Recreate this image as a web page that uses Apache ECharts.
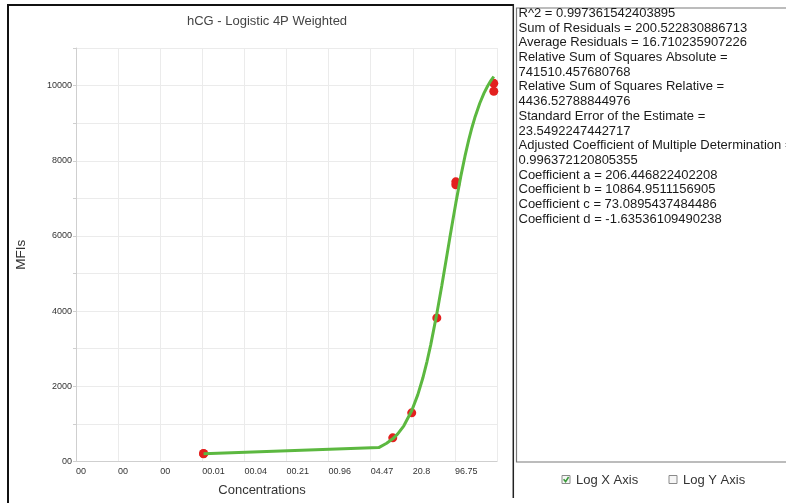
<!DOCTYPE html>
<html>
<head>
<meta charset="utf-8">
<script src="https://cdn.jsdelivr.net/npm/echarts@6/dist/echarts.min.js"></script>
<style>
  html, body { margin: 0; padding: 0; background: #fff; }
  #chart { width: 786px; height: 503px; }
</style>
</head>
<body>
<div id="chart"></div>
<script>
// ---- data ----
const pointConc = [0.01, 0.01, 10, 20, 50, 100, 100, 400, 400];
const pointMfi  = [206, 214, 630, 1295, 3820, 7360, 7440, 10060, 9850];

const fitConc = [0.01, 6, 8, 10, 12, 15, 20, 25, 30, 35, 40, 50, 60, 70, 80, 90, 100, 120, 140, 160, 180, 200, 240, 280, 320, 360, 400];
const fitMfi  = [206, 370, 485, 603, 734, 950, 1349, 1779, 2221, 2666, 3103, 3932, 4683, 5348, 5929, 6434, 6873, 7585, 8128, 8548, 8879, 9142, 9531, 9798, 9990, 10133, 10242];

const xTickLabels = ['00', '00', '00', '00.01', '00.04', '00.21', '00.96', '04.47', '20.8', '96.75', ''];
const yTickLabels = ['00', '', '2000', '', '4000', '', '6000', '', '8000', '', '10000', ''];

// log x-axis: ticks form a geometric sequence (ratio ~4.6514), tick #9 = 96.75
const xTickRatio = 4.6514;
const xTickRef = 96.75;
const xTickRefIndex = 9;

const statsLines = [
  'R^2 = 0.997361542403895',
  'Sum of Residuals = 200.522830886713',
  'Average Residuals = 16.710235907226',
  'Relative Sum of Squares Absolute =',
  '741510.457680768',
  'Relative Sum of Squares Relative =',
  '4436.52788844976',
  'Standard Error of the Estimate =',
  '23.5492247442717',
  'Adjusted Coefficient of Multiple Determination =',
  '0.996372120805355',
  'Coefficient a = 206.446822402208',
  'Coefficient b = 10864.9511156905',
  'Coefficient c = 73.0895437484486',
  'Coefficient d = -1.63536109490238'
];

// ---- chart ----
function xPos(c) {
  return Math.log(c / xTickRef) / Math.log(xTickRatio) + xTickRefIndex;
}
const pointData = pointConc.map((c, i) => [xPos(c), pointMfi[i]]);
const fitData = fitConc.map((c, i) => [xPos(c), fitMfi[i]]);

const FONT = 'Liberation Sans, Arial, sans-serif';
const chart = echarts.init(document.getElementById('chart'), null, { renderer: 'canvas' });

const option = {
  animation: false,
  backgroundColor: '#fff',
  title: {
    text: 'hCG - Logistic 4P Weighted',
    left: 262,
    textAlign: 'center',
    top: 10,
    textStyle: { fontFamily: FONT, fontSize: 13, fontWeight: 'normal', color: '#444' }
  },
  grid: { left: 76, right: 289, top: 48, bottom: 41.5, containLabel: false },
  xAxis: {
    type: 'value',
    min: 0,
    max: 10,
    interval: 1,
    name: 'Concentrations',
    nameLocation: 'middle',
    nameGap: 22,
    nameTextStyle: { fontFamily: FONT, fontSize: 13, color: '#333', padding: [0, 49, 0, 0] },
    axisLine: { show: true, lineStyle: { color: '#cfcfcf', width: 1 } },
    axisTick: { show: false },
    axisLabel: {
      fontFamily: FONT, fontSize: 9, color: '#333', align: 'left', margin: 6,
      formatter: v => xTickLabels[Math.round(v)] || ''
    },
    splitLine: { show: true, lineStyle: { color: '#ebebeb', width: 1 } }
  },
  yAxis: {
    type: 'value',
    min: 0,
    max: 11000,
    interval: 1000,
    name: 'MFIs',
    nameLocation: 'middle',
    nameGap: 48,
    nameTextStyle: { fontFamily: FONT, fontSize: 13.5, color: '#333' },
    axisLine: { show: true, lineStyle: { color: '#cfcfcf', width: 1 } },
    axisTick: { show: true, length: 3, lineStyle: { color: '#cfcfcf' } },
    axisLabel: {
      fontFamily: FONT, fontSize: 9, color: '#333', margin: 4,
      formatter: v => yTickLabels[Math.round(v / 1000)] || ''
    },
    splitLine: { show: true, lineStyle: { color: '#ebebeb', width: 1 } }
  },
  series: [
    {
      type: 'scatter',
      data: pointData,
      symbol: 'circle',
      symbolSize: 9,
      itemStyle: { color: '#e3201f', opacity: 1 },
      z: 2
    },
    {
      type: 'line',
      data: fitData,
      showSymbol: false,
      smooth: false,
      lineStyle: { color: '#5cb840', width: 3 },
      z: 3
    }
  ],
  graphic: [
    // outer frame
    { type: 'line', shape: { x1: 8, y1: 5, x2: 513.5, y2: 5 }, style: { stroke: '#111', lineWidth: 2 } },
    { type: 'line', shape: { x1: 8, y1: 4, x2: 8, y2: 503 }, style: { stroke: '#111', lineWidth: 2 } },
    { type: 'line', shape: { x1: 513.3, y1: 4, x2: 513.3, y2: 498 }, style: { stroke: '#222', lineWidth: 1.5 } },
    // stats panel
    { type: 'rect', shape: { x: 516.5, y: 8, width: 300, height: 454 }, style: { fill: '#fff', stroke: '#7a7a7a', lineWidth: 1.2 } },
    {
      type: 'text', left: 518.5, top: 6,
      style: {
        text: statsLines.join('\n'),
        fontFamily: FONT, fontSize: 13, lineHeight: 14.7, fill: '#1a1a1a'
      }
    },
    // checkboxes
    { type: 'rect', shape: { x: 562, y: 475.5, width: 8, height: 8 }, style: { fill: '#f6f6f6', stroke: '#8a8a8a', lineWidth: 1 } },
    { type: 'polyline', shape: { points: [[563.6, 479.3], [565.6, 481.6], [568.6, 477]] }, style: { stroke: '#3b9a3b', lineWidth: 1.6, fill: null } },
    { type: 'text', x: 576, y: 480, style: { text: 'Log X Axis', fontFamily: FONT, fontSize: 13, fill: '#333', verticalAlign: 'middle' } },
    { type: 'rect', shape: { x: 669, y: 475.5, width: 8, height: 8 }, style: { fill: '#f6f6f6', stroke: '#8a8a8a', lineWidth: 1 } },
    { type: 'text', x: 683, y: 480, style: { text: 'Log Y Axis', fontFamily: FONT, fontSize: 13, fill: '#333', verticalAlign: 'middle' } }
  ]
};
chart.setOption(option);
</script>
</body>
</html>
